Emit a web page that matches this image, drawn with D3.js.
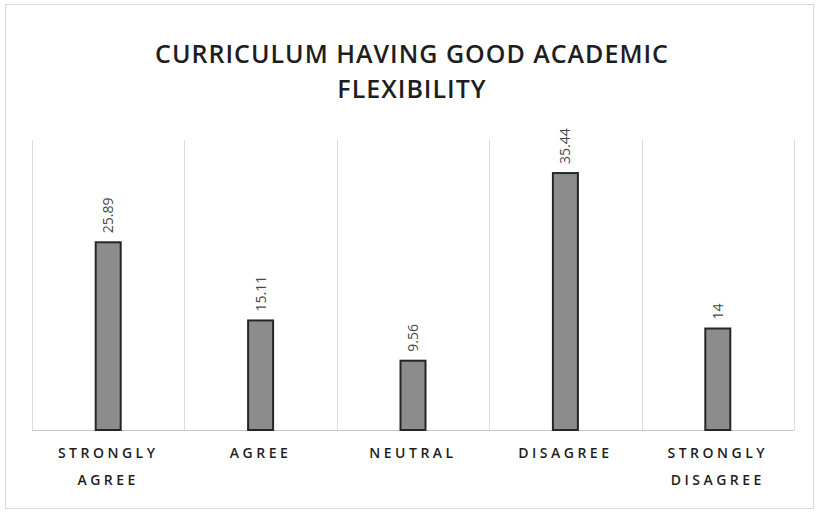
<!DOCTYPE html>
<html>
<head>
<meta charset="utf-8">
<script src="https://cdn.jsdelivr.net/npm/d3@7"></script>
<style>
  body { margin: 0; background: #fff; }
  svg { display: block; }
</style>
</head>
<body>
<svg></svg>
<script>
// Bar chart: curriculum having good academic flexibility (percent of responses)

const width = 820;
const height = 513;

const categories = [
  ["STRONGLY", "AGREE"],
  ["AGREE"],
  ["NEUTRAL"],
  ["DISAGREE"],
  ["STRONGLY", "DISAGREE"],
];
const values = [25.89, 15.11, 9.56, 35.44, 14];
const valueLabels = ["25.89", "15.11", "9.56", "35.44", "14"];
const titleLines = ["CURRICULUM HAVING GOOD ACADEMIC", "FLEXIBILITY"];

const plot = { left: 32, right: 794, top: 140, bottom: 430 };
const keys = categories.map((c) => c.join(" "));

const svg = d3.select("svg").attr("width", width).attr("height", height);

// faint outer frame
svg
  .append("rect")
  .attr("x", 5.5)
  .attr("y", 4.5)
  .attr("width", width - 12)
  .attr("height", height - 9)
  .attr("fill", "none")
  .attr("stroke", "#d9d9d9");

const x = d3
  .scaleBand()
  .domain(keys)
  .range([plot.left, plot.right])
  .paddingInner(0)
  .paddingOuter(0);

const y = d3.scaleLinear().domain([0, 40]).range([plot.bottom, plot.top]);

// vertical gridlines between categories
const gridX = keys.map((k) => x(k)).concat([x(keys[keys.length - 1]) + x.bandwidth()]);
svg
  .append("g")
  .selectAll("line")
  .data(gridX)
  .enter()
  .append("line")
  .attr("x1", (d) => Math.round(d) + 0.5)
  .attr("x2", (d) => Math.round(d) + 0.5)
  .attr("y1", plot.top)
  .attr("y2", plot.bottom)
  .attr("stroke", "#dcdcdc")
  .attr("stroke-width", 1);

// baseline
svg
  .append("line")
  .attr("x1", plot.left)
  .attr("x2", plot.right)
  .attr("y1", y(0) + 0.5)
  .attr("y2", y(0) + 0.5)
  .attr("stroke", "#c8c8c8");

const barW = 25;

svg
  .append("g")
  .selectAll("rect")
  .data(values)
  .enter()
  .append("rect")
  .attr("x", (d, i) => x(keys[i]) + x.bandwidth() / 2 - barW / 2)
  .attr("y", (d) => y(d))
  .attr("width", barW)
  .attr("height", (d) => y(0) - y(d))
  .attr("fill", "#8c8c8c")
  .attr("stroke", "#262626")
  .attr("stroke-width", 2);

// rotated value labels
svg
  .append("g")
  .selectAll("text")
  .data(values)
  .enter()
  .append("text")
  .attr("transform", (d, i) => {
    const cx = x(keys[i]) + x.bandwidth() / 2 + 5;
    const cy = y(d) - 9;
    return `translate(${cx},${cy}) rotate(-90)`;
  })
  .attr("font-family", "Open Sans, sans-serif")
  .attr("font-size", 14)
  .attr("fill", "#4a4a4a")
  .text((d, i) => valueLabels[i]);

// category labels
const cat = svg
  .append("g")
  .selectAll("text")
  .data(categories)
  .enter()
  .append("text")
  .attr("x", (d, i) => x(keys[i]) + x.bandwidth() / 2)
  .attr("y", 458)
  .attr("text-anchor", "middle")
  .attr("font-family", "Open Sans, sans-serif")
  .attr("font-size", 14)
  .attr("font-weight", 600)
  .attr("letter-spacing", 3.5)
  .attr("fill", "#1e1e1e");

cat
  .selectAll("tspan")
  .data((d) => d)
  .enter()
  .append("tspan")
  .attr("x", function () {
    return d3.select(this.parentNode).attr("x");
  })
  .attr("dy", (d, i) => (i === 0 ? 0 : 27))
  .text((d) => d);

// title
svg
  .append("g")
  .selectAll("text")
  .data(titleLines)
  .enter()
  .append("text")
  .attr("x", 412)
  .attr("y", (d, i) => 63 + i * 35)
  .attr("text-anchor", "middle")
  .attr("font-family", "Open Sans, sans-serif")
  .attr("font-size", 25)
  .attr("font-weight", 600)
  .attr("letter-spacing", 1)
  .attr("fill", "#1e1e1e")
  .text((d) => d);
</script>
</body>
</html>
